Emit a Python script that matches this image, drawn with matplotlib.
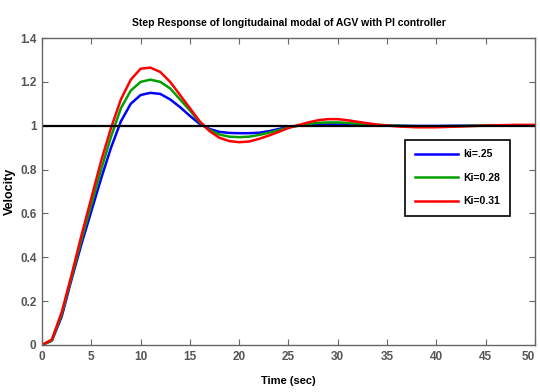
import matplotlib
matplotlib.use("Agg")
import matplotlib.pyplot as plt

# Step response samples
t = [0, 1, 2, 3, 4, 5, 6, 7, 8, 9, 10, 11, 12, 13, 14, 15, 16, 17, 18, 19, 20,
     21, 22, 23, 24, 25, 26, 27, 28, 29, 30, 31, 32, 34, 36, 38, 40, 42, 44, 46, 48, 50]

v_025 = [0, 0.02, 0.13, 0.30, 0.46, 0.61, 0.76, 0.90, 1.02, 1.10, 1.14, 1.15, 1.145, 1.12,
         1.085, 1.045, 1.008, 0.985, 0.972, 0.967, 0.966, 0.966, 0.968, 0.975, 0.985, 0.995,
         1.0, 1.003, 1.005, 1.006, 1.006, 1.005, 1.004, 1.002, 1.0, 0.999, 0.999, 1.0, 1.0,
         1.0, 1.0, 1.0]
v_028 = [0, 0.02, 0.14, 0.31, 0.48, 0.64, 0.80, 0.95, 1.08, 1.16, 1.20, 1.21, 1.20, 1.17,
         1.12, 1.07, 1.015, 0.98, 0.96, 0.95, 0.948, 0.95, 0.958, 0.968, 0.98, 0.992,
         1.0, 1.008, 1.013, 1.015, 1.015, 1.013, 1.01, 1.004, 1.0, 0.997, 0.997, 0.998,
         1.0, 1.001, 1.001, 1.0]
v_031 = [0, 0.025, 0.15, 0.32, 0.50, 0.67, 0.84, 0.99, 1.12, 1.21, 1.26, 1.265, 1.245, 1.20,
         1.14, 1.08, 1.02, 0.975, 0.945, 0.93, 0.925, 0.928, 0.94, 0.955, 0.972, 0.99,
         1.003, 1.015, 1.025, 1.03, 1.03, 1.025, 1.018, 1.005, 0.997, 0.993, 0.993, 0.996,
         0.999, 1.002, 1.004, 1.004]

labels = ["ki=.25", "Ki=0.28", "Ki=0.31"]
colors = ["#0000ff", "#00a000", "#ff0000"]

plt.rcParams['font.family'] = ['Liberation Sans', 'DejaVu Sans']

fig = plt.figure(figsize=(5.4, 3.92), dpi=100)
ax = fig.add_axes([0.0778, 0.1199, 0.9129, 0.7831])

for y, lab, c in zip([v_025, v_028, v_031], labels, colors):
    ax.plot(t, y, color=c, lw=1.8, label=lab)
ax.axhline(1, color="black", lw=1.6)

ax.set_xlim(0, 50)
ax.set_ylim(0, 1.4)
ax.set_xticks(range(0, 51, 5))
ax.set_yticks([0, 0.2, 0.4, 0.6, 0.8, 1, 1.2, 1.4])
ax.set_yticklabels(["0", "0.2", "0.4", "0.6", "0.8", "1", "1.2", "1.4"])
ax.tick_params(direction="in", top=True, right=True, length=4, width=0.8,
               color="#666666", labelcolor="#555555", labelsize=8.5, pad=4)
for lbl in ax.get_xticklabels() + ax.get_yticklabels():
    lbl.set_fontweight("bold")
# last x label sits at the right edge, keep it inside the figure
ax.get_xticklabels()[-1].set_horizontalalignment("right")
for s in ax.spines.values():
    s.set_color("#666666")
    s.set_linewidth(1.0)

ax.set_title("Step Response of longitudainal modal of AGV with PI controller",
             fontsize=7.5, fontweight="bold", pad=9)
ax.set_xlabel("Time (sec)", fontsize=8, fontweight="bold", labelpad=10)
ax.set_ylabel("Velocity", fontsize=9, fontweight="bold", labelpad=3)

leg = ax.legend(loc="upper right", bbox_to_anchor=(0.949, 0.668), borderaxespad=0,
                fancybox=False, edgecolor="black", framealpha=1, handlelength=4.2,
                handletextpad=0.5, prop={"weight": "bold", "size": 7.5},
                labelspacing=1.3, borderpad=0.9)
leg.get_frame().set_linewidth(1.2)

fig.savefig("out.png", dpi=100)
